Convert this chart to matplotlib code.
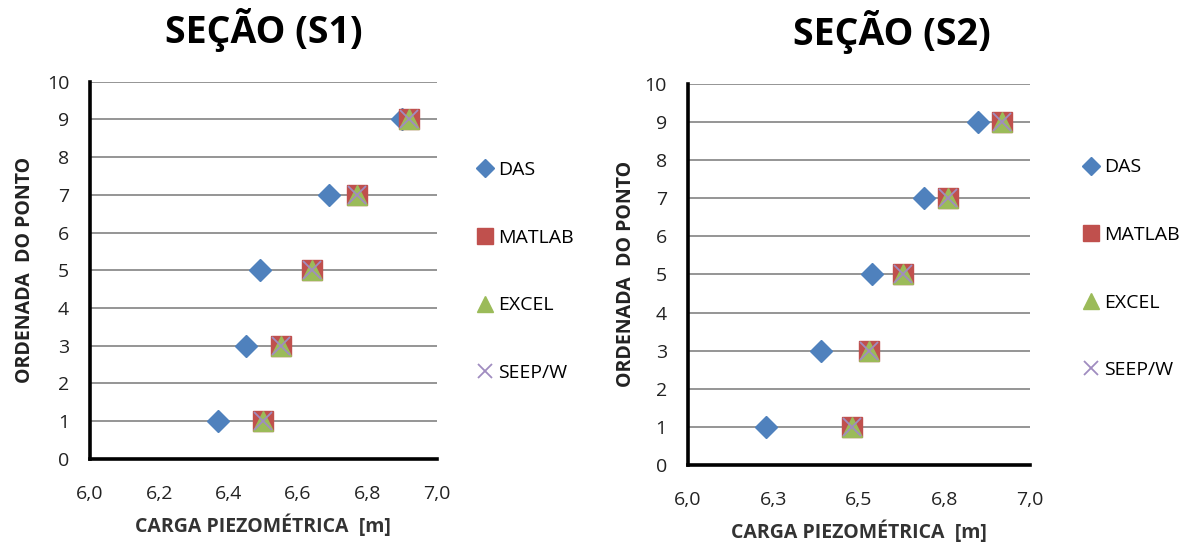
import matplotlib
matplotlib.use("Agg")
import matplotlib.pyplot as plt
from matplotlib.ticker import FixedLocator, FuncFormatter
from decimal import Decimal, ROUND_HALF_UP

plt.rcParams['font.family'] = ['Open Sans', 'DejaVu Sans']

ordinates = [1, 3, 5, 7, 9]

# Section S1 piezometric heads [m]
s1_das = [6.37, 6.45, 6.49, 6.69, 6.90]
s1_matlab = [6.50, 6.55, 6.64, 6.77, 6.92]
s1_excel = [6.50, 6.55, 6.64, 6.77, 6.92]
s1_seepw = [6.50, 6.55, 6.64, 6.77, 6.92]

# Section S2 piezometric heads [m]
s2_das = [6.23, 6.39, 6.54, 6.69, 6.85]
s2_matlab = [6.48, 6.53, 6.63, 6.76, 6.92]
s2_excel = [6.48, 6.53, 6.63, 6.76, 6.92]
s2_seepw = [6.48, 6.53, 6.63, 6.76, 6.92]

s1_xticks = [6.0, 6.2, 6.4, 6.6, 6.8, 7.0]
s2_xticks = [6.0, 6.25, 6.5, 6.75, 7.0]
yticks = list(range(0, 11))

titles = ["SEÇÃO (S1)", "SEÇÃO (S2)"]
series_names = ["DAS", "MATLAB", "EXCEL", "SEEP/W"]

colors = {"DAS": "#4F81BD", "MATLAB": "#C0504D", "EXCEL": "#9BBB59", "SEEP/W": "#A08CC0"}
markers = {"DAS": "D", "MATLAB": "s", "EXCEL": "^", "SEEP/W": "x"}
msizes = {"DAS": 11.5, "MATLAB": 14, "EXCEL": 15, "SEEP/W": 13}

fig = plt.figure(figsize=(12, 5.45), dpi=100)
ax1 = fig.add_axes([0.075, 0.158, 0.289, 0.692])
ax2 = fig.add_axes([0.573, 0.147, 0.285, 0.699])


def comma_fmt(v, pos):
    d = Decimal(str(v)).quantize(Decimal("0.1"), rounding=ROUND_HALF_UP)
    return str(d).replace(".", ",")


def draw(ax, data, xticks, title, title_x, ylabel_x, legend_anchor):
    ax.set_xlim(6.0, 7.0)
    ax.set_ylim(0, 10)
    ax.yaxis.set_major_locator(FixedLocator(yticks))
    ax.xaxis.set_major_locator(FixedLocator(xticks))
    ax.xaxis.set_major_formatter(FuncFormatter(comma_fmt))
    ax.grid(axis='y', color='#8c8c8c', linewidth=1.3)
    ax.set_axisbelow(True)
    for s in ['top', 'right']:
        ax.spines[s].set_visible(False)
    for s in ['left', 'bottom']:
        ax.spines[s].set_linewidth(2.6)
        ax.spines[s].set_color('black')
    ax.tick_params(axis='both', length=0, labelsize=14, colors='#222222')
    ax.tick_params(axis='y', pad=15)
    ax.tick_params(axis='x', pad=19)
    handles = []
    for name in series_names:
        mk = markers[name]
        if mk == 'x':
            h = ax.plot(data[name], ordinates, linestyle='none', marker=mk,
                        color=colors[name], markersize=msizes[name],
                        markeredgewidth=1.3, label=name, zorder=5)[0]
        else:
            h = ax.plot(data[name], ordinates, linestyle='none', marker=mk,
                        markerfacecolor=colors[name], markeredgecolor=colors[name],
                        markersize=msizes[name], label=name, zorder=4)[0]
        handles.append(h)
    ax.set_xlabel("CARGA PIEZOMÉTRICA  [m]", fontsize=14, fontweight='bold',
                  color='#333333', labelpad=8)
    ax.set_ylabel("ORDENADA  DO PONTO", fontsize=14, fontweight='bold',
                  color='#222222')
    ax.yaxis.set_label_coords(ylabel_x, 0.5)
    ax.set_title(title, fontsize=27, fontweight='bold', pad=28, x=title_x)
    leg = ax.legend(handles=handles, loc='upper left', bbox_to_anchor=legend_anchor,
                    frameon=False, fontsize=14, labelspacing=2.55, handlelength=0.9,
                    handletextpad=0.25, markerscale=0.8, borderaxespad=0)
    return leg


draw(ax1, {"DAS": s1_das, "MATLAB": s1_matlab, "EXCEL": s1_excel, "SEEP/W": s1_seepw},
     s1_xticks, titles[0], 0.5, -0.158, (1.09, 0.81))
draw(ax2, {"DAS": s2_das, "MATLAB": s2_matlab, "EXCEL": s2_excel, "SEEP/W": s2_seepw},
     s2_xticks, titles[1], 0.596, -0.152, (1.13, 0.825))

fig.savefig("out.png", dpi=100, facecolor='white')
